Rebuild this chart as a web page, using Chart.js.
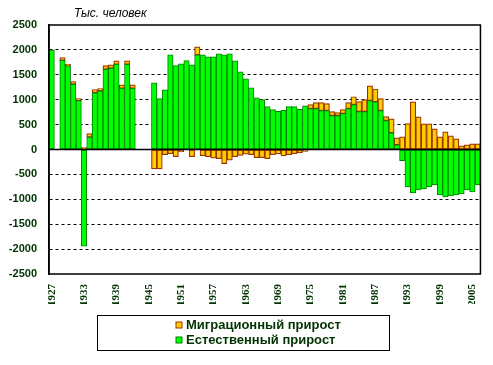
<!DOCTYPE html>
<html>
<head>
<meta charset="utf-8">
<script src="https://cdn.jsdelivr.net/npm/chart.js@4/dist/chart.umd.min.js"></script>
<style>
  html, body { margin: 0; padding: 0; background: #ffffff; }
  #wrap { width: 493px; height: 365px; position: relative; }
</style>
</head>
<body>
<div id="wrap"><canvas id="popChart"></canvas></div>
<script>
// годы 1927-2006, пропуски там, где данных нет
const years = [];
for (let y = 1927; y <= 2006; y++) years.push(String(y));

// Естественный прирост, тыс. человек
const natural = [
    2000, null, 1790, 1680, 1310, 980, -1940, 250, 1140, 1180,   // 1927-1936
    1610, 1630, 1710, 1230, 1710, 1230, null, null, null, 1340,  // 1937-1946
    1020, 1200, 1900, 1685, 1720, 1785, 1700, 1900, 1900, 1860,  // 1947-1956
    1860, 1920, 1900, 1920, 1780, 1560, 1420, 1240, 1040, 1000,  // 1957-1966
    860, 800, 765, 785, 860, 860, 805, 875, 820, 820,            // 1967-1976
    780, 780, 680, 680, 720, 820, 900, 760, 760, 980,            // 1977-1986
    955, 780, 580, 335, 95, -225, -750, -870, -810, -790,        // 1987-1996
    -750, -710, -910, -950, -930, -910, -890, -810, -850, -710   // 1997-2006
];

// Миграционный прирост, тыс. человек
const migration = [
    null, null, 55, 30, 55, 45, 40, 70, 65, 45,                  // 1927-1936
    75, 70, 70, 70, 70, 70, null, null, null, -390,              // 1937-1946
    -390, -105, -85, -145, -50, null, -145, 160, -125, -145,     // 1947-1956
    -175, -185, -285, -215, -145, -120, -95, -105, -165, -165,   // 1957-1966
    -185, -105, -90, -130, -105, -85, -65, -40, 80, 120,         // 1967-1976
    160, 140, 80, 60, 80, 120, 160, 200, 240, 300,               // 1977-1986
    260, 240, 80, 280, 140, 255, 520, 955, 655, 515,             // 1987-1996
    515, 415, 255, 355, 275, 215, 75, 95, 115, 115               // 1997-2006
];

const yTicks = [-2500, -2000, -1500, -1000, -500, 0, 500, 1000, 1500, 2000, 2500];

const textColor = '#003300';

// рамка, нулевая линия, подпись единиц и легенда в рамке
const decorPlugin = {
    id: 'decor',
    afterDatasetsDraw(chart) {
        const ctx = chart.ctx;
        const area = chart.chartArea;
        const y0 = chart.scales.y.getPixelForValue(0);
        ctx.save();
        ctx.strokeStyle = '#000000';
        ctx.lineWidth = 1.5;
        ctx.beginPath();
        ctx.moveTo(area.left, y0);
        ctx.lineTo(area.right, y0);
        ctx.stroke();
        ctx.strokeRect(area.left, area.top, area.right - area.left, area.bottom - area.top);

        ctx.fillStyle = '#000000';
        ctx.font = 'italic 12px "Liberation Sans", Arial, sans-serif';
        ctx.textBaseline = 'middle';
        ctx.textAlign = 'left';
        ctx.fillText('Тыс. человек', 74, 14);

        // легенда
        ctx.lineWidth = 1;
        ctx.strokeRect(97.5, 315.5, 292, 35);
        const items = [chart.data.datasets[1], chart.data.datasets[0]];
        ctx.font = 'bold 13px "Liberation Sans", Arial, sans-serif';
        items.forEach(function (ds, i) {
            const cy = 325 + i * 15;
            ctx.fillStyle = ds.backgroundColor;
            ctx.fillRect(176, cy - 3, 6, 6);
            ctx.strokeStyle = ds.borderColor;
            ctx.strokeRect(176, cy - 3, 6, 6);
            ctx.fillStyle = textColor;
            ctx.fillText(ds.label, 186, cy + 0.5);
        });
        ctx.restore();
    }
};

const ctx = document.getElementById('popChart').getContext('2d');
new Chart(ctx, {
    type: 'bar',
    data: {
        labels: years,
        datasets: [{
            label: 'Естественный прирост',
            data: natural,
            backgroundColor: '#00FF00',
            borderColor: '#008000',
            borderWidth: 1,
            borderSkipped: false,
            barPercentage: 1,
            categoryPercentage: 1
        }, {
            label: 'Миграционный прирост',
            data: migration,
            backgroundColor: '#FFCC00',
            borderColor: '#993300',
            borderWidth: 1.2,
            borderSkipped: false,
            barPercentage: 1,
            categoryPercentage: 1
        }]
    },
    options: {
        responsive: true,
        maintainAspectRatio: false,
        animation: false,
        layout: { padding: { top: 25, right: 8, bottom: 61, left: 0 } },
        plugins: {
            legend: { display: false },
            tooltip: { enabled: false }
        },
        scales: {
            x: {
                stacked: true,
                grid: { display: false },
                border: { display: false },
                afterFit: function (scale) { scale.height = 30; },
                ticks: {
                    autoSkip: false,
                    minRotation: 90,
                    maxRotation: 90,
                    padding: 2,
                    color: textColor,
                    font: { family: '"Liberation Serif", "Times New Roman", serif', size: 11, weight: 'bold' },
                    callback: function (value, index) {
                        return index % 6 === 0 ? years[index] : '';
                    }
                }
            },
            y: {
                stacked: true,
                min: -2500,
                max: 2500,
                afterFit: function (scale) { scale.width = 49; },
                afterBuildTicks: function (scale) {
                    scale.ticks = yTicks.map(function (v) { return { value: v }; });
                },
                grid: {
                    drawTicks: false,
                    lineWidth: 1,
                    color: function (c) {
                        const v = c.tick ? c.tick.value : 0;
                        return (v === 0 || v === 2500 || v === -2500) ? 'rgba(0,0,0,0)' : '#000000';
                    }
                },
                border: { display: true, color: '#000000', width: 1.5, dash: [3, 3] },
                ticks: {
                    padding: 12,
                    color: textColor,
                    font: { family: '"Liberation Sans", Arial, sans-serif', size: 11, weight: 'bold' },
                    callback: function (value) { return String(value); }
                }
            }
        }
    },
    plugins: [decorPlugin]
});
</script>
</body>
</html>
